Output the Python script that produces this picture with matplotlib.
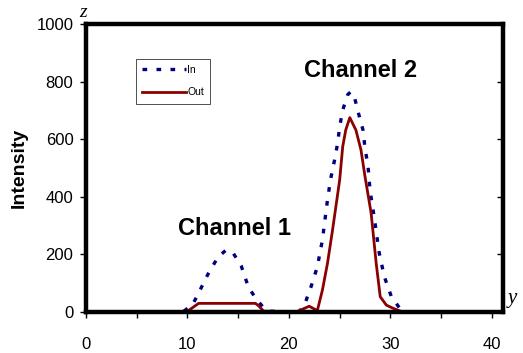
import matplotlib
matplotlib.use("Agg")
import matplotlib.pyplot as plt

# curves
x_in = [0, 9, 9.6, 10.5, 11.1, 12, 13, 13.8, 14.5, 15.3, 16, 16.7, 17.5, 18,
        21, 21.6, 22.2, 22.8, 23.3, 23.8, 24.1, 24.5, 24.8, 25.0, 25.3, 25.8,
        26.1, 26.5, 26.9, 27.3, 27.5, 27.8, 28.0, 28.4, 28.9, 29.4, 30.1, 30.9, 31.5]
y_in = [0, 0, 2, 25, 66, 130, 190, 215, 205, 160, 87, 49, 15, 3,
        0, 31, 90, 157, 250, 389, 460, 528, 586, 643, 701, 755,
        765, 740, 684, 632, 569, 505, 420, 331, 205, 123, 53, 14, 0]

x_out = [0, 9.9, 11.1, 16.7, 17.0, 17.5, 20.7, 22.0, 22.8, 23.3, 23.8, 24.3,
         25.0, 25.3, 25.6, 26.0, 26.6, 27.1, 27.5, 28.1, 28.6, 29.0, 29.6, 30.2, 31.2]
y_out = [0, 0, 30, 30, 22, 3, 0, 20, 5, 76, 169, 285,
         458, 574, 632, 675, 632, 563, 470, 344, 169, 53, 24, 14, 0]

x_ticks = [0, 10, 20, 30, 40]
y_ticks = [0, 200, 400, 600, 800, 1000]

blue = "#000080"
red = "#8b0000"

plt.rcParams["font.family"] = ["Liberation Sans", "DejaVu Sans"]
fig = plt.figure(figsize=(5.23, 3.53), dpi=100)
ax = fig.add_axes([0.1644, 0.1161, 0.7974, 0.8159])

ax.plot(x_in, y_in, color=blue, lw=2.4, ls=(0, (1.4, 2.8)), label="In")
ax.plot(x_out, y_out, color=red, lw=2.0, label="Out")

ax.set_xlim(0, 41.1)
ax.set_ylim(0, 1000)
ax.set_xticks(x_ticks)
ax.set_xticks([5, 15, 25, 35], minor=True)
ax.set_yticks(y_ticks)
for lab in ax.get_xticklabels() + ax.get_yticklabels():
    lab.set_fontsize(12)
ax.tick_params(which="both", direction="out", length=4, width=1)
ax.tick_params(axis="x", which="both", pad=14)
ax.tick_params(axis="y", pad=5)

for s in ax.spines.values():
    s.set_linewidth(3.2)

# inward ticks on the right spine
ax2 = ax.twinx()
ax2.set_ylim(0, 1000)
ax2.set_yticks([200, 400, 600, 800])
ax2.set_yticklabels([])
ax2.tick_params(direction="in", length=4, width=1)
for s in ax2.spines.values():
    s.set_visible(False)

ax.set_ylabel("Intensity", fontsize=14, fontweight="bold", labelpad=6)

ax.text(27.1, 840, "Channel 2", fontsize=17, fontweight="bold",
        ha="center", va="center")
ax.text(14.6, 290, "Channel 1", fontsize=17, fontweight="bold",
        ha="center", va="center")

ax.text(-0.3, 1040, "z", fontsize=14, style="italic", family="Liberation Serif",
        ha="center", va="center", clip_on=False)
ax.text(42.0, 15, "y", fontsize=15, style="italic", family="Liberation Serif",
        ha="center", va="bottom", clip_on=False)

leg = ax.legend(loc="upper left", bbox_to_anchor=(0.12, 0.88), fontsize=7.5,
                frameon=True, fancybox=False, handlelength=4.2, handletextpad=0.1,
                borderpad=0.6, labelspacing=1.2, borderaxespad=0)
leg.get_frame().set_edgecolor("black")
leg.get_frame().set_linewidth(0.6)

fig.savefig("out.png", dpi=100)
